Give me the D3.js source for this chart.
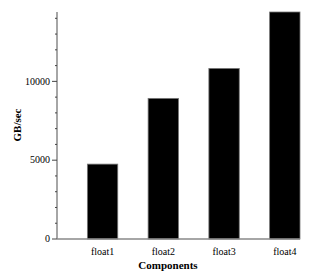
<!DOCTYPE html>
<html lang="en">
<head>
<meta charset="UTF-8">
<title>GB/sec by Components</title>
<script src="https://d3js.org/d3.v7.min.js"></script>
<style>
  body { margin: 0; background: #fff; }
  text { font-family: "Liberation Serif", "Times New Roman", serif; fill: #000; }
</style>
</head>
<body>
<div id="chart"></div>
<script>
  const categories = ["float1", "float2", "float3", "float4"];
  const values = [4750, 8920, 10820, 14400];
  const majorTicks = [0, 5000, 10000];
  const minorTicks = d3.range(0, 14001, 1000);

  const width = 320, height = 280;
  const plotLeft = 57, plotRight = 300, plotTop = 12, plotBottom = 239;

  const svg = d3.select("#chart").append("svg")
    .attr("width", width)
    .attr("height", height);

  const x = d3.scaleLinear().domain([0.25, 4.25]).range([plotLeft, plotRight]);
  const y = d3.scaleLinear().domain([0, 14400]).range([plotBottom, plotTop]);
  const barW = x(1.5) - x(1);

  // bars
  svg.selectAll(".bar")
    .data(values)
    .enter().append("rect")
    .attr("class", "bar")
    .attr("x", (d, i) => x(i + 1) - barW / 2)
    .attr("y", d => y(d))
    .attr("width", barW)
    .attr("height", d => plotBottom - y(d))
    .attr("fill", "#000")
    .attr("stroke", "#777")
    .attr("stroke-width", 0.8);

  // axes lines
  svg.append("line")
    .attr("x1", plotLeft).attr("x2", plotLeft)
    .attr("y1", plotTop).attr("y2", plotBottom)
    .attr("stroke", "#888").attr("stroke-width", 1.5);
  svg.append("line")
    .attr("x1", plotLeft).attr("x2", plotRight)
    .attr("y1", plotBottom).attr("y2", plotBottom)
    .attr("stroke", "#888").attr("stroke-width", 1.5);

  // minor ticks
  svg.selectAll(".minor")
    .data(minorTicks.filter(t => !majorTicks.includes(t)))
    .enter().append("line")
    .attr("x1", plotLeft - 2).attr("x2", plotLeft)
    .attr("y1", d => y(d)).attr("y2", d => y(d))
    .attr("stroke", "#444").attr("stroke-width", 1);

  // major ticks + labels
  const major = svg.selectAll(".major")
    .data(majorTicks)
    .enter().append("g")
    .attr("transform", d => `translate(0,${y(d)})`);
  major.append("line")
    .attr("x1", plotLeft - 5).attr("x2", plotLeft)
    .attr("stroke", "#444").attr("stroke-width", 1);
  major.append("text")
    .attr("x", plotLeft - 7)
    .attr("dy", "0.33em")
    .attr("text-anchor", "end")
    .style("font-size", "10px")
    .text(d => d);

  // category labels
  svg.selectAll(".cat")
    .data(categories)
    .enter().append("text")
    .attr("x", (d, i) => x(i + 1))
    .attr("y", 255)
    .attr("text-anchor", "middle")
    .style("font-size", "10px")
    .text(d => d);

  // axis titles
  svg.append("text")
    .attr("x", 168)
    .attr("y", 269)
    .attr("text-anchor", "middle")
    .style("font-size", "11px")
    .style("font-weight", "bold")
    .text("Components");

  svg.append("text")
    .attr("transform", "translate(21,125) rotate(-90)")
    .attr("text-anchor", "middle")
    .style("font-size", "11px")
    .style("font-weight", "bold")
    .text("GB/sec");
</script>
</body>
</html>
